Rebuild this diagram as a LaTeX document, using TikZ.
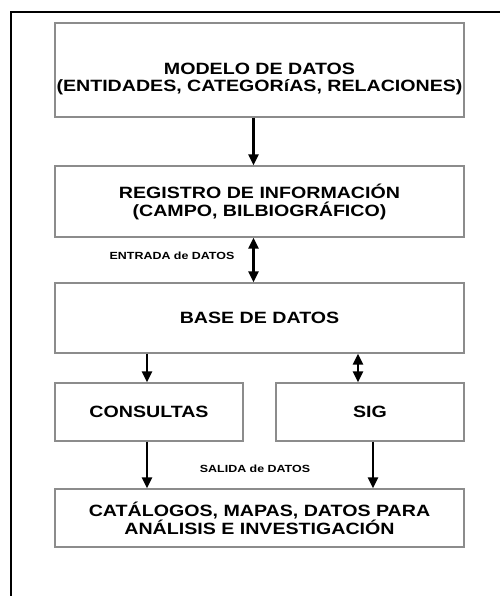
\documentclass[tikz,border=0pt]{standalone}
\usepackage{fontspec}
\setmainfont{Liberation Sans}[FakeStretch=1.2]
\usepackage{tikz}
\usetikzlibrary{arrows.meta}

\begin{document}
\begin{tikzpicture}[x=0.02cm, y=-0.02cm,
    caja/.style={draw=gray!90, line width=0.8pt, align=center,
        font=\bfseries\fontsize{9.3}{10.2}\selectfont, inner sep=0pt},
    ancha/.style={caja, minimum width=409*0.02cm},
    corta/.style={caja, minimum width=188*0.02cm, minimum height=58*0.02cm},
    etiq/.style={font=\bfseries\fontsize{5.9}{6}\selectfont, inner sep=0pt},
    flecha/.style={line width=1.6pt, -{Triangle[length=0.22cm, width=0.2cm]}},
    doble/.style={line width=1.6pt, {Triangle[length=0.22cm, width=0.2cm]}-{Triangle[length=0.22cm, width=0.2cm]}}]
    \useasboundingbox (0,0) rectangle (500,596);
    \draw[line width=1.1pt] (11,596) -- (11,12) -- (500,12);

    \node[ancha, minimum height=94*0.02cm, font=\bfseries\fontsize{9.3}{9.6}\selectfont] (modelo) at (259.5,70)
        {\rule{0pt}{0.6cm}MODELO DE DATOS\\(ENTIDADES, CATEGORíAS, RELACIONES)};
    \node[ancha, minimum height=71*0.02cm] (registro) at (259.5,201.5)
        {REGISTRO DE INFORMACIÓN\\(CAMPO, BILBIOGRÁFICO)};
    \node[ancha, minimum height=70*0.02cm] (base) at (259.5,318) {BASE DE DATOS};
    \node[corta] (consultas) at (149,412) {CONSULTAS};
    \node[corta] (sig) at (370,412) {SIG};
    \node[ancha, minimum height=58*0.02cm] (productos) at (259.5,518)
        {CATÁLOGOS, MAPAS, DATOS PARA\\ANÁLISIS E INVESTIGACIÓN};

    \node[etiq] (entrada) at (172,256) {ENTRADA de DATOS};
    \node[etiq] (salida) at (255,469) {SALIDA de DATOS};

    \draw[flecha] ([xshift=-0.12cm]modelo.south) -- ([xshift=-0.12cm]registro.north);
    \draw[doble] ([xshift=-0.12cm]registro.south) -- ([xshift=-0.12cm]base.north);
    \draw[flecha] ([xshift=-0.04cm]base.south -| consultas.north) -- ([xshift=-0.04cm]consultas.north);
    \draw[doble] ([xshift=-0.24cm]base.south -| sig.north) -- ([xshift=-0.24cm]sig.north);
    \draw[flecha] ([xshift=-0.04cm]consultas.south) -- ([xshift=-0.04cm]productos.north -| consultas.south);
    \draw[flecha] ([xshift=0.06cm]sig.south) -- ([xshift=0.06cm]productos.north -| sig.south);
\end{tikzpicture}
\end{document}
